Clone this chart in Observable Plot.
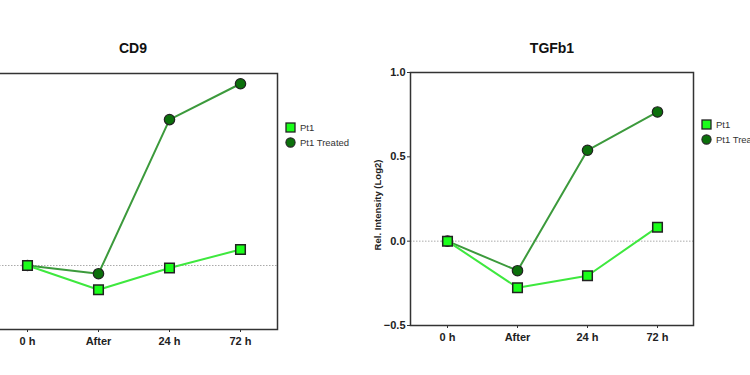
<!DOCTYPE html>
<html>
<head>
<meta charset="utf-8">
<script src="https://cdn.jsdelivr.net/npm/d3@7"></script>
<script src="https://cdn.jsdelivr.net/npm/@observablehq/plot@0.6"></script>
<style>
  html, body { margin: 0; padding: 0; background: #fff; }
  #root { position: relative; width: 750px; height: 375px; overflow: hidden; font-family: Arial, "Liberation Sans", sans-serif; }
  .panel { position: absolute; }
  .title { position: absolute; font-weight: bold; font-size: 14px; color: #111; transform: translateX(-50%); white-space: nowrap; }
  .legend { position: absolute; font-size: 9.5px; color: #333; line-height: 15px; white-space: nowrap; }
  .legend div { display: flex; align-items: center; }
  .legend svg { margin-right: 4px; }
  .ylab { position: absolute; font-weight: bold; font-size: 9.5px; color: #222; transform: translate(-50%,-50%) rotate(-90deg); white-space: nowrap; }
</style>
</head>
<body>
<div id="root"></div>
<script>
const timepoints = ["0 h", "After", "24 h", "72 h"];
const seriesNames = ["Pt1", "Pt1 Treated"];
const cd9Pt1 = [0, -0.19, -0.02, 0.125];
const cd9Treated = [0, -0.064, 1.14, 1.42];
const tgfPt1 = [0, -0.276, -0.205, 0.083];
const tgfTreated = [0, -0.175, 0.539, 0.766];
const yTicksCD9 = [-0.5, 0, 0.5, 1.0, 1.5];
const yTicksTGF = [-0.5, 0, 0.5, 1.0];

const colors = {
  "Pt1": {line: "#3ee83e", fill: "#1aff1a"},
  "Pt1 Treated": {line: "#3c9a3c", fill: "#0b700b"}
};

function rows(a, b) {
  const out = [];
  timepoints.forEach((t, i) => out.push({t, v: a[i], s: seriesNames[0]}));
  timepoints.forEach((t, i) => out.push({t, v: b[i], s: seriesNames[1]}));
  return out;
}

const MT = 12;

function makePlot(data, yDomain, yTicks, frameW, frameH, showYLabels) {
  const ml = 50, mr = 2, mt = MT, mb = 28;
  return Plot.plot({
    width: ml + frameW + mr,
    height: mt + frameH + mb,
    marginLeft: ml, marginRight: mr, marginTop: mt, marginBottom: mb,
    style: {fontFamily: "Arial, 'Liberation Sans', sans-serif", fontSize: "11px", fontWeight: "bold", color: "#222", background: "transparent"},
    x: {type: "point", domain: timepoints, padding: 0.5, label: null},
    y: {domain: yDomain, label: null},
    marks: [
      Plot.ruleY([0], {stroke: "#aaa", strokeDasharray: "1.5,1.5", strokeWidth: 1}),
      Plot.axisX({ticks: timepoints, tickSize: 3, tickPadding: 5, stroke: "#333", fontWeight: "bold", fontSize: 11}),
      showYLabels
        ? Plot.axisY({ticks: yTicks, tickSize: 3, tickPadding: 2, tickFormat: d3.format(".1f"), stroke: "#333", fontWeight: "bold", fontSize: 11})
        : Plot.axisY({ticks: yTicks, tickSize: 3, stroke: "#333", text: null}),
      Plot.line(data.filter(d => d.s === seriesNames[1]), {x: "t", y: "v", stroke: colors[seriesNames[1]].line, strokeWidth: 2}),
      Plot.line(data.filter(d => d.s === seriesNames[0]), {x: "t", y: "v", stroke: colors[seriesNames[0]].line, strokeWidth: 2}),
      Plot.dot(data.filter(d => d.s === seriesNames[1]), {x: "t", y: "v", symbol: "circle", r: 5.2, fill: colors[seriesNames[1]].fill, stroke: "#222", strokeWidth: 1.2}),
      Plot.dot(data.filter(d => d.s === seriesNames[0]), {x: "t", y: "v", symbol: "square", r: 5.4, fill: colors[seriesNames[0]].fill, stroke: "#222", strokeWidth: 1.5}),
      Plot.frame({stroke: "#333", strokeWidth: 1.5})
    ]
  });
}

function legend(x, y) {
  const lg = document.createElement("div");
  lg.className = "legend";
  lg.style.left = x + "px";
  lg.style.top = y + "px";
  seriesNames.forEach((s, i) => {
    const row = document.createElement("div");
    const sym = i === 0
      ? `<svg width="11" height="11"><rect x="1" y="1" width="9" height="9" fill="${colors[s].fill}" stroke="#222" stroke-width="1.3"/></svg>`
      : `<svg width="11" height="11"><circle cx="5.5" cy="5.5" r="4.6" fill="${colors[s].fill}" stroke="#222" stroke-width="1.1"/></svg>`;
    row.innerHTML = sym + `<span>${s}</span>`;
    lg.appendChild(row);
  });
  return lg;
}

const root = document.getElementById("root");

// Left panel: CD9 (frame partly cut off at the left edge, y labels outside the view)
const p1 = makePlot(rows(cd9Pt1, cd9Treated), [-0.5, 1.5], yTicksCD9, 287, 256, false);
p1.classList.add("panel");
p1.style.left = (-10 - 50) + "px";
p1.style.top = (73 - MT) + "px";
root.appendChild(p1);

// Right panel: TGFb1
const p2 = makePlot(rows(tgfPt1, tgfTreated), [-0.5, 1.0], yTicksTGF, 283, 253, true);
p2.classList.add("panel");
p2.style.left = (410 - 50) + "px";
p2.style.top = (72 - MT) + "px";
root.appendChild(p2);

const t1 = document.createElement("div");
t1.className = "title"; t1.textContent = "CD9";
t1.style.left = "133px"; t1.style.top = "40px";
root.appendChild(t1);

const t2 = document.createElement("div");
t2.className = "title"; t2.textContent = "TGFb1";
t2.style.left = "552px"; t2.style.top = "40px";
root.appendChild(t2);

const yl = document.createElement("div");
yl.className = "ylab"; yl.textContent = "Rel. Intensity (Log2)";
yl.style.left = "377px"; yl.style.top = "205px";
root.appendChild(yl);

root.appendChild(legend(285, 120));
root.appendChild(legend(701, 117));
</script>
</body>
</html>
